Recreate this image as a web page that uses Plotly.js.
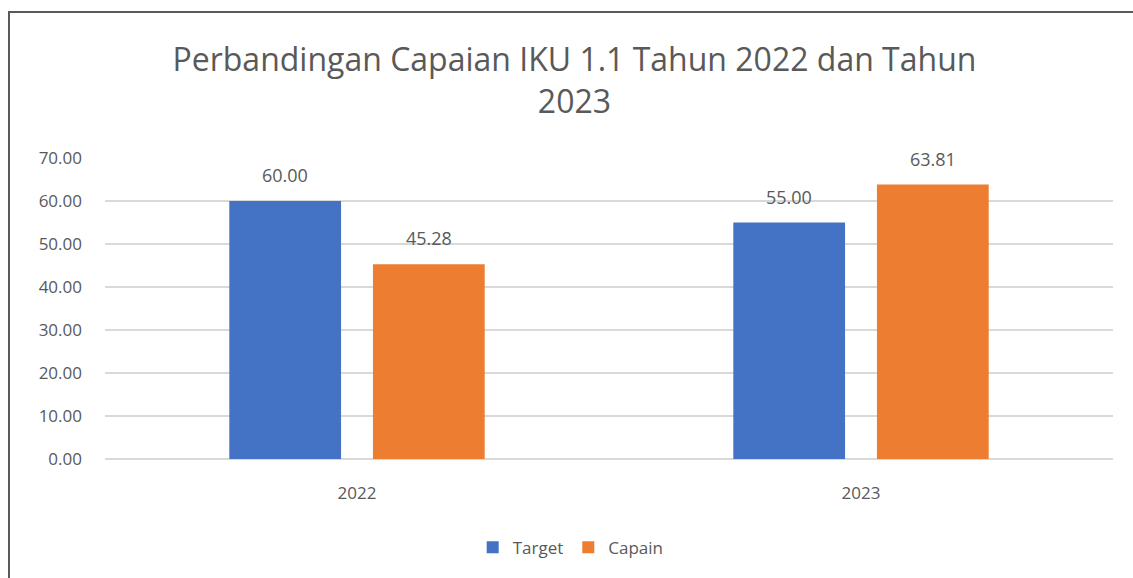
<!DOCTYPE html>
<html>
<head>
<meta charset="utf-8">
<script src="https://cdn.plot.ly/plotly-3.0.1.min.js"></script>
<style>
html,body{margin:0;padding:0;background:#fff;overflow:hidden;}
#frame{position:absolute;left:8px;top:11px;width:1140px;height:600px;border:2px solid #595959;box-sizing:border-box;pointer-events:none;z-index:5;}
#chart{position:absolute;left:0;top:0;width:1133px;height:578px;}
</style>
</head>
<body>
<div id="chart"></div>
<div id="frame"></div>
<script>
var categories = ['2022', '2023'];
var targetValues = [60.00, 55.00];
var capainValues = [45.28, 63.81];
var seriesNames = ['Target', 'Capain'];
var tickValues = [0, 10, 20, 30, 40, 50, 60, 70];

var font = 'Open Sans, Liberation Sans, Arial, sans-serif';
var gray = '#595959';

function fmt(v){ return v.toFixed(2); }

var traces = [
  {type:'bar', name:seriesNames[0], x:categories, y:targetValues, marker:{color:'#4472C4'}},
  {type:'bar', name:seriesNames[1], x:categories, y:capainValues, marker:{color:'#ED7D31'}}
];

var annotations = [];
[targetValues, capainValues].forEach(function(vals, si){
  vals.forEach(function(v, i){
    annotations.push({x:i, y:v, xref:'x', yref:'y', text:fmt(v), showarrow:false,
      xanchor:'center', yanchor:'bottom', yshift:12, xshift:(si===0?-72:72),
      font:{size:18, color:gray, family:font}});
  });
});

var layout = {
  width:1133, height:578,
  margin:{l:105, r:20, t:158, b:116},
  paper_bgcolor:'#fff', plot_bgcolor:'#fff',
  font:{family:font, color:gray},
  title:{text:'Perbandingan Capaian IKU 1.1 Tahun 2022 dan Tahun<br>2023',
         font:{size:32, color:gray, family:font}, x:0.507, xanchor:'center', y:0.877, yanchor:'top'},
  barmode:'group', bargap:0.43, bargroupgap:0.222,
  xaxis:{type:'category', automargin:false, range:[-0.5, categories.length-0.5], tickfont:{size:17, color:gray}, showgrid:false, showline:false, ticks:'', ticklen:0, ticklabelstandoff:22},
  yaxis:{range:[0,70], automargin:false, tickvals:tickValues, ticktext:tickValues.map(fmt),
         tickfont:{size:17, color:gray}, gridcolor:'#d9d9d9', gridwidth:1.3,
         zeroline:true, zerolinecolor:'#d9d9d9', zerolinewidth:1.3, showline:false, ticks:'', ticklabelstandoff:22},
  annotations:annotations,
  showlegend:true,
  legend:{orientation:'h', x:0.462, xanchor:'center', y:-0.235, yanchor:'top',
          font:{size:17, color:gray}, itemwidth:30, traceorder:'normal'}
};

Plotly.newPlot('chart', traces, layout, {displayModeBar:false, staticPlot:true});
</script>
</body>
</html>
